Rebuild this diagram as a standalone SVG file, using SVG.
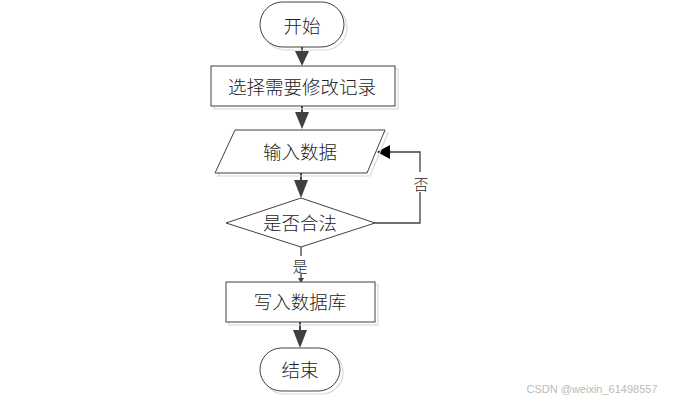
<svg xmlns="http://www.w3.org/2000/svg" width="679" height="403" viewBox="0 0 679 403">
<style>
.sh{fill:none;stroke:#d9d9d9;stroke-width:1.2}
.nd{fill:#fff;stroke:#404040;stroke-width:1}
.t{font-family:"Noto Sans CJK SC","Liberation Sans",sans-serif;font-weight:300;font-size:18.5px;fill:#222;text-anchor:middle;dominant-baseline:central}
.c{fill:none;stroke:#404040;stroke-width:2}
.c1{fill:none;stroke:#404040;stroke-width:1.3}
</style>
<rect width="679" height="403" fill="#fff"/>
<g id="connectors">
<line class="c" x1="302" y1="47" x2="302" y2="52"/>
<path d="M295,51 L309,51 L302,66 z" fill="#404040"/>
<line class="c" x1="302" y1="106" x2="302" y2="113"/>
<path d="M295,112 L309,112 L302,129 z" fill="#404040"/>
<line class="c" x1="301" y1="173" x2="301" y2="181"/>
<path d="M294,180 L308,180 L301,198 z" fill="#404040"/>
<polyline class="c1" points="375,223 420,223 420,152 388,152"/>
<path d="M390,145 L390,159 L377,152 z" fill="#000"/>
<rect x="412" y="172" width="16" height="20" fill="#fff"/>
<text class="t" x="421" y="183" style="font-size:15px">否</text>
<line class="c1" x1="301" y1="247" x2="301" y2="278"/>
<rect x="292" y="256" width="18" height="18" fill="#fff"/>
<text class="t" x="300" y="265" style="font-size:15px">是</text>
<path d="M298,278 L304,278 L301,283 z" fill="#404040"/>
<line class="c" x1="300" y1="322" x2="300" y2="331"/>
<path d="M293,330 L307,330 L300,348 z" fill="#404040"/>
</g>
<g id="start">
<rect class="sh" x="263" y="5" width="84" height="45" rx="22.5"/>
<rect class="nd" x="260" y="2" width="84" height="45" rx="22.5"/>
<text class="t" x="302" y="25">开始</text>
</g>
<g id="select">
<rect class="sh" x="214" y="69" width="184" height="40"/>
<rect class="nd" x="211" y="66" width="184" height="40"/>
<text class="t" x="302" y="86">选择需要修改记录</text>
</g>
<g id="input">
<polygon class="sh" points="238,133 388,133 370,176 218,176"/>
<polygon class="nd" points="235,130 385,130 367,173 215,173"/>
<text class="t" x="300" y="151">输入数据</text>
</g>
<g id="check">
<polygon class="nd" points="301,198 375,223 301,247 226,223"/>
<text class="t" x="300" y="222">是否合法</text>
</g>
<g id="write">
<rect class="sh" x="229" y="285" width="149" height="40"/>
<rect class="nd" x="226" y="282" width="149" height="40"/>
<text class="t" x="300" y="301">写入数据库</text>
</g>
<g id="end">
<rect class="sh" x="263" y="351" width="80" height="43" rx="21.5"/>
<rect class="nd" x="260" y="348" width="80" height="43" rx="21.5"/>
<text class="t" x="300" y="369">结束</text>
</g>
<text x="592" y="389" font-family="'Liberation Sans',sans-serif" font-size="11" fill="#bbb" text-anchor="middle" dominant-baseline="central">CSDN @weixin_61498557</text>
</svg>
